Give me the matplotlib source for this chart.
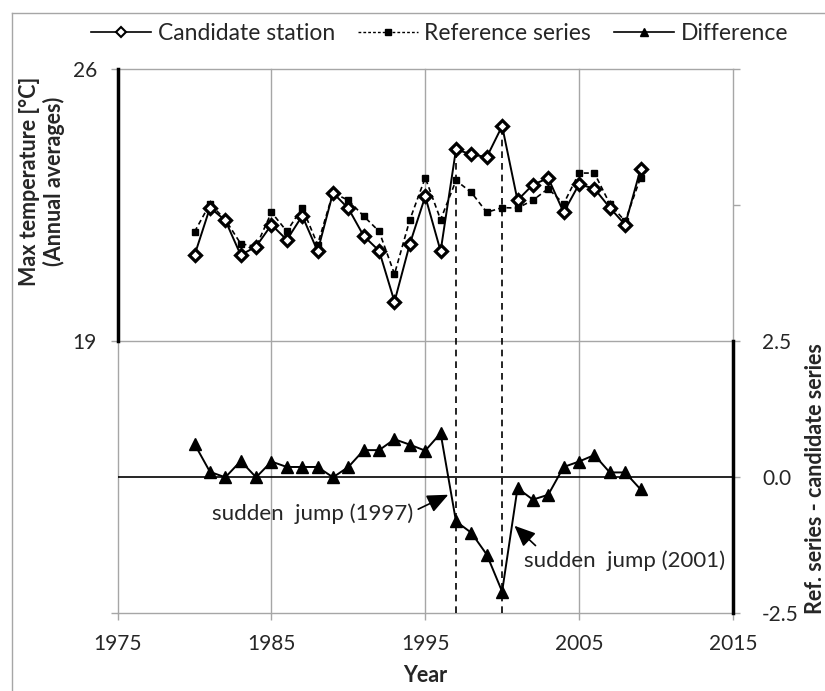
import matplotlib.pyplot as plt
from matplotlib.lines import Line2D

plt.rcParams['font.family'] = ['Lato', 'DejaVu Sans']

years = list(range(1980, 2010))
candidate = [21.22, 22.44, 22.11, 21.22, 21.44, 22.00, 21.61, 22.23, 21.32, 22.82,
             22.42, 21.71, 21.33, 20.02, 21.51, 22.73, 21.32, 23.94, 23.81, 23.74,
             24.54, 22.63, 23.03, 23.20, 22.32, 23.04, 22.93, 22.44, 22.00, 23.43]
reference = [21.82, 22.54, 22.13, 21.51, 21.44, 22.32, 21.83, 22.44, 21.49, 22.82,
             22.63, 22.22, 21.83, 20.73, 22.13, 23.21, 22.13, 23.14, 22.83, 22.32,
             22.44, 22.43, 22.63, 22.93, 22.54, 23.33, 23.33, 22.54, 22.09, 23.21]
difference = [0.61, 0.10, 0.00, 0.30, 0.00, 0.29, 0.19, 0.19, 0.19, 0.00,
              0.19, 0.50, 0.50, 0.70, 0.60, 0.49, 0.81, -0.81, -1.02, -1.42,
              -2.10, -0.20, -0.41, -0.32, 0.19, 0.29, 0.41, 0.09, 0.09, -0.22]

jump_years = [1997, 2000]
x_ticks = [1975, 1985, 1995, 2005, 2015]
left_ticks = [12, 19, 26]
left_labels = ['', '19', '26']
right_ticks = [-2.5, 0.0, 2.5, 5.0, 7.5]
right_labels = ['-2.5', '0.0', '2.5', '', '']

grey = '#a6a6a6'
txt = '#262626'

fig = plt.figure(figsize=(8.25, 6.91), dpi=100)
ax1 = fig.add_axes([0.1427, 0.1124, 0.7455, 0.7873])
ax2 = ax1.twinx()

ax1.set_xlim(1975, 2015)
ax1.set_ylim(12, 26)
ax2.set_ylim(-2.5, 7.5)

ax1.set_xticks(x_ticks)
ax1.set_xticklabels([str(x) for x in x_ticks])
ax1.set_yticks(left_ticks)
ax1.set_yticklabels(left_labels)
ax2.set_yticks(right_ticks)
ax2.set_yticklabels(right_labels)

ax1.grid(True, color=grey, lw=1)
ax1.set_axisbelow(True)
for gl in ax1.get_xgridlines() + ax1.get_ygridlines():
    gl.set_clip_on(False)

for ax in (ax1, ax2):
    for s in ax.spines.values():
        s.set_visible(False)
ax1.spines['left'].set_visible(True)
ax1.spines['left'].set_bounds(19, 26)
ax1.spines['left'].set_linewidth(2.5)
ax2.spines['right'].set_visible(True)
ax2.spines['right'].set_bounds(-2.5, 2.5)
ax2.spines['right'].set_linewidth(2.5)

ax1.tick_params(axis='x', color=grey, length=5, width=1, labelsize=15, labelcolor=txt, pad=10)
ax1.tick_params(axis='y', color=grey, length=5, width=1, labelsize=15, labelcolor=txt, pad=10)
ax2.tick_params(axis='y', color=grey, length=5, width=1, labelsize=15, labelcolor=txt, pad=16)

ax2.axhline(0, color='black', lw=1.2, zorder=1)

jump_tops = [candidate[years.index(y)] for y in jump_years]
ax1.vlines(jump_years, 12, jump_tops, colors='black', linestyles=(0, (4, 3)), lw=1.2)

ax1.plot(years, reference, color='black', ls=(0, (3, 2)), lw=1.2, marker='s', ms=5)
ax1.plot(years, candidate, color='black', ls='-', lw=1.4, marker='D', ms=6,
         mfc='white', mew=2.3)
ax2.plot(years, difference, color='black', lw=1.4, marker='^', ms=8)

arrow = dict(arrowstyle='-|>,head_length=0.8,head_width=0.35', color='black', lw=1.2,
             shrinkA=2, shrinkB=0)
ax2.annotate('sudden  jump (1997)', xy=(1996.5, -0.32), xytext=(1994.2, -0.67),
             ha='right', va='center', fontsize=16, color=txt,
             arrowprops=dict(arrow, relpos=(1.0, 0.6)))
ax2.annotate('sudden  jump (2001)', xy=(2000.8, -0.89), xytext=(2001.45, -1.53),
             ha='left', va='center', fontsize=16, color=txt,
             arrowprops=dict(arrow, relpos=(0.08, 1.0)))

handles = [
    Line2D([], [], color='black', lw=1.2, marker='D', ms=5, mfc='white', mew=1.5),
    Line2D([], [], color='black', lw=1.0, ls=(0, (2, 1.5)), marker='s', ms=4),
    Line2D([], [], color='black', lw=1.2, marker='^', ms=6),
]
fig.legend(handles, ['Candidate station', 'Reference series', 'Difference'],
           loc='center', bbox_to_anchor=(0.533, 0.952), ncol=3, frameon=False,
           fontsize=16.5, handlelength=2.6, columnspacing=1.0, handletextpad=0.3,
           labelcolor=txt)

fig.text(0.051, 0.738, 'Max temperature [°C]\n(Annual averages)', rotation=90,
         ha='center', va='center', fontsize=15.5, fontweight='bold',
         multialignment='center', color=txt)
fig.text(0.988, 0.307, 'Ref. series - candidate series', rotation=90,
         ha='center', va='center', fontsize=15.5, fontweight='bold', color=txt)
fig.text(0.515, 0.022, 'Year', ha='center', va='center', fontsize=15.5,
         fontweight='bold', color=txt)

# outer chart border (only left and top visible in the original crop)
fig.add_artist(Line2D([12 / 825, 12 / 825], [0, 1 - 13 / 691], color=grey, lw=1))
fig.add_artist(Line2D([12 / 825, 1], [1 - 13 / 691, 1 - 13 / 691], color=grey, lw=1))

fig.savefig('out.png', dpi=100)
